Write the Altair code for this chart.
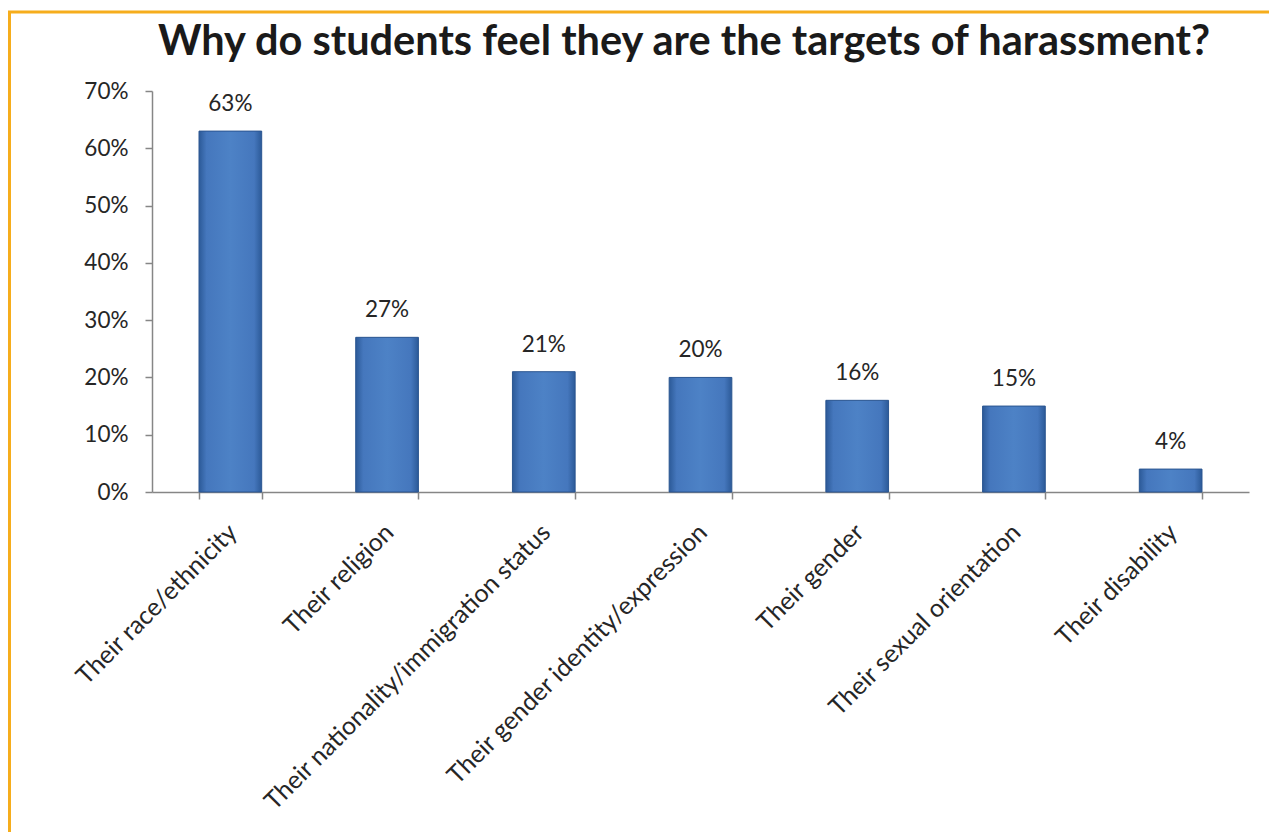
import altair as alt
import pandas as pd

categories = [
    "Their race/ethnicity",
    "Their religion",
    "Their nationality/immigration status",
    "Their gender identity/expression",
    "Their gender",
    "Their sexual orientation",
    "Their disability",
]
values = [0.63, 0.27, 0.21, 0.20, 0.16, 0.15, 0.04]
labels = ["63%", "27%", "21%", "20%", "16%", "15%", "4%"]
y_ticks = [0, 0.1, 0.2, 0.3, 0.4, 0.5, 0.6, 0.7]
title_text = "Why do students feel they are the targets of harassment?"

df = pd.DataFrame({"cat": categories, "val": values, "lab": labels})
title_df = pd.DataFrame({"t": [title_text]})

FONT = "Lato"
W, H = 1097, 401

x_enc = alt.X(
    "cat:N",
    sort=categories,
    title=None,
    scale=alt.Scale(paddingInner=0.6, paddingOuter=0.3),
    axis=alt.Axis(
        labelAngle=-45,
        labelAlign="right",
        labelBaseline="middle",
        labelPadding=29,
        labelOffset=2,
        labelFontSize=25,
        labelFont=FONT,
        labelColor="#262626",
        tickBand="extent",
        tickSize=7,
        tickColor="#868686",
        domainColor="#868686",
        domainWidth=1.5,
        tickWidth=1.5,
        labelLimit=600,
    ),
)
y_enc = alt.Y(
    "val:Q",
    title=None,
    scale=alt.Scale(domain=[0, 0.7], nice=False),
    axis=alt.Axis(
        values=y_ticks,
        format=".0%",
        grid=False,
        labelFontSize=22.5,
        labelFont=FONT,
        labelColor="#262626",
        labelPadding=17,
        tickSize=7,
        tickColor="#868686",
        domainColor="#868686",
        domainWidth=1.5,
        tickWidth=1.5,
    ),
)

bars = alt.Chart(df).mark_bar(
    color=alt.Gradient(
        gradient="linear",
        x1=0, x2=1, y1=0, y2=0,
        stops=[
            alt.GradientStop(offset=0, color="#2c5a98"),
            alt.GradientStop(offset=0.12, color="#4577bd"),
            alt.GradientStop(offset=0.5, color="#4d82c6"),
            alt.GradientStop(offset=0.88, color="#4577bd"),
            alt.GradientStop(offset=1, color="#2c5a98"),
        ],
    ),
    stroke="#2a5590",
    strokeWidth=1,
).encode(x=x_enc, y=y_enc)

text = alt.Chart(df).mark_text(
    dy=-27, fontSize=22.5, font=FONT, color="#262626"
).encode(x=alt.X("cat:N", sort=categories), y="val:Q", text="lab:N")

title = alt.Chart(title_df).mark_text(
    fontSize=41.5, font=FONT, fontWeight="bold", color="#1a1a1a",
    baseline="alphabetic", align="center", clip=False,
).encode(x=alt.value(532), y=alt.value(-36), text="t:N")

border_top = alt.Chart(title_df).mark_rule(color="#F6AD1C", strokeWidth=3, clip=False).encode(
    x=alt.value(-144), x2=alt.value(1200), y=alt.value(-79), y2=alt.value(-79)
)
border_left = alt.Chart(title_df).mark_rule(color="#F6AD1C", strokeWidth=3, clip=False).encode(
    x=alt.value(-142.5), x2=alt.value(-142.5), y=alt.value(-80), y2=alt.value(800)
)

chart = alt.layer(border_top, border_left, bars, text, title).properties(
    width=W,
    height=H,
    autosize=alt.AutoSizeParams(type="none"),
    padding={"left": 144, "top": 83, "right": 20, "bottom": 340},
).configure_view(stroke=None)

chart.save("out.html", embed_options={"renderer": "svg", "actions": False})
